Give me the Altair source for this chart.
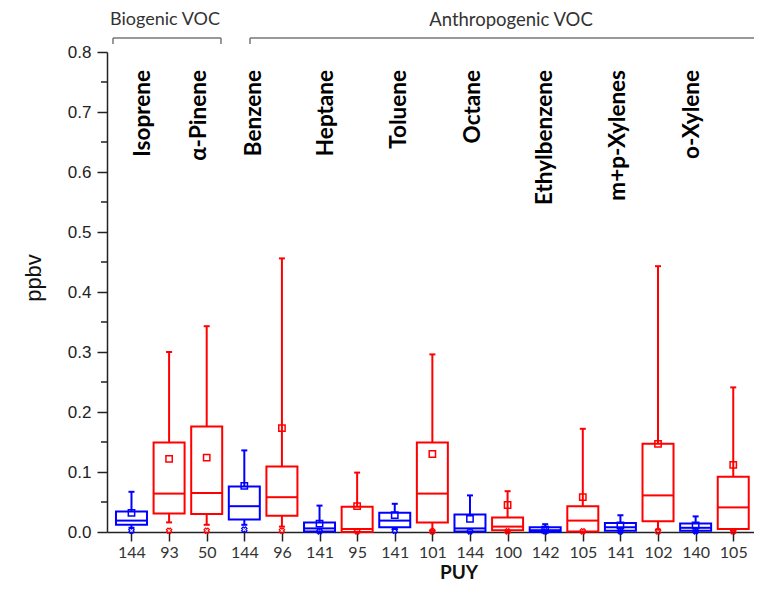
import altair as alt
import pandas as pd

# ---- data ----
n_labels = ["144", "93", "50", "144", "96", "141", "95", "141", "101",
            "144", "100", "142", "105", "141", "102", "140", "105"]
series = ["A", "B", "B", "A", "B", "A", "B", "A", "B",
          "A", "B", "A", "B", "A", "B", "A", "B"]
q1 = [0.012, 0.031, 0.030, 0.021, 0.027, 0.001, 0.000, 0.008, 0.016,
      0.001, 0.003, 0.000, 0.001, 0.002, 0.018, 0.002, 0.005]
median = [0.019, 0.064, 0.065, 0.043, 0.058, 0.006, 0.005, 0.019, 0.064,
          0.006, 0.009, 0.003, 0.019, 0.008, 0.061, 0.007, 0.041]
q3 = [0.034, 0.149, 0.176, 0.076, 0.109, 0.016, 0.042, 0.032, 0.149,
      0.029, 0.024, 0.008, 0.043, 0.015, 0.147, 0.014, 0.092]
mean = [0.032, 0.122, 0.124, 0.077, 0.173, 0.014, 0.043, 0.028, 0.130,
        0.022, 0.045, 0.004, 0.058, 0.011, 0.147, 0.011, 0.112]
whisk_lo = [0.007, 0.016, 0.012, 0.012, 0.009, 0.001, 0.000, 0.005, 0.002,
            0.000, 0.001, 0.000, 0.000, 0.000, 0.004, 0.000, 0.002]
whisk_hi = [0.067, 0.300, 0.343, 0.136, 0.456, 0.044, 0.099, 0.047, 0.296,
            0.061, 0.068, 0.013, 0.172, 0.028, 0.443, 0.026, 0.241]
p1 = [0.002, 0.002, 0.002, 0.004, 0.002, 0.001, 0.001, 0.002, 0.001,
      0.001, 0.001, 0.001, 0.001, 0.001, 0.001, 0.001, 0.001]

compounds = ["Isoprene", "α-Pinene", "Benzene", "Heptane", "Toluene",
             "Octane", "Ethylbenzene", "m+p-Xylenes", "o-Xylene"]
compound_pos = [0.5, 1.98, 3.435, 5.36, 7.31, 9.26, 11.18, 13.13, 15.08]

y_ticks = [0.0, 0.1, 0.2, 0.3, 0.4, 0.5, 0.6, 0.7, 0.8]
y_minor = [0.05, 0.15, 0.25, 0.35, 0.45, 0.55, 0.65, 0.75]

df = pd.DataFrame({
    "idx": list(range(len(n_labels))),
    "n": n_labels, "series": series,
    "q1": q1, "median": median, "q3": q3, "mean": mean,
    "lo": whisk_lo, "hi": whisk_hi, "p1": p1,
})
df_lab = pd.DataFrame({"compound": compounds, "pos": compound_pos})
df_minor = pd.DataFrame({"v": y_minor})
one = pd.DataFrame({"a": [0]})

xscale = alt.Scale(domain=[-0.518, 16.419], nice=False, zero=False)
yscale = alt.Scale(domain=[0, 0.8], nice=False, zero=True)
cscale = alt.Scale(domain=["A", "B"], range=["#0000ff", "#ff0000"])

label_expr = "[" + ",".join("'%s'" % s for s in n_labels) + "][datum.value]"
xaxis = alt.Axis(values=list(range(len(n_labels))), labelExpr=label_expr,
                 title=None, grid=False, tickSize=9, tickWidth=1.5,
                 tickColor="#222", domainColor="#222", domainWidth=1.5,
                 labelFont="Lato", labelFontSize=16, labelColor="#333",
                 labelPadding=3, labelOverlap=False, labelFlush=False)
yaxis = alt.Axis(values=y_ticks, format=".1f", title=None, grid=False,
                 tickSize=10, tickWidth=1.5, tickColor="#222",
                 domainColor="#222", domainWidth=1.5,
                 labelFont="Liberation Sans", labelFontSize=17,
                 labelColor="#222", labelPadding=6)


def XQ(field):
    return alt.X(field, type="quantitative", scale=xscale, axis=xaxis)


def YQ(field):
    return alt.Y(field, type="quantitative", scale=yscale, axis=yaxis)


stroke = alt.Stroke("series:N", scale=cscale, legend=None)
color = alt.Color("series:N", scale=cscale, legend=None)

base = alt.Chart(df)

whisk_up = base.mark_rule(strokeWidth=2).encode(
    x=XQ("idx"), y=YQ("q3"), y2="hi:Q", stroke=stroke)
whisk_dn = base.mark_rule(strokeWidth=2).encode(
    x=XQ("idx"), y=YQ("lo"), y2="q1:Q", stroke=stroke)
cap_hi = base.mark_tick(orient="horizontal", size=6, thickness=2,
                        opacity=1).encode(x=XQ("idx"), y=YQ("hi"), color=color)
cap_lo = base.mark_tick(orient="horizontal", size=6, thickness=2,
                        opacity=1).encode(x=XQ("idx"), y=YQ("lo"), color=color)
box = base.mark_bar(orient="vertical", size=31, fill="white",
                    strokeWidth=2).encode(
    x=XQ("idx"), y=YQ("q1"), y2="q3:Q", stroke=stroke)
med = base.mark_tick(orient="horizontal", size=31, thickness=2,
                     opacity=1).encode(x=XQ("idx"), y=YQ("median"), color=color)
mean_pt = base.mark_point(shape="square", size=40, filled=False,
                          strokeWidth=1.5, opacity=1).encode(
    x=XQ("idx"), y=YQ("mean"), stroke=stroke)
p1_pt = base.mark_point(shape="cross", angle=45, size=30, filled=False,
                        strokeWidth=1.2, opacity=1).encode(
    x=XQ("idx"), y=YQ("p1"), stroke=stroke)

minor = alt.Chart(df_minor).mark_rule(stroke="#222", strokeWidth=1.5).encode(
    x=alt.value(-6), x2=alt.value(0), y=YQ("v"))

labels = alt.Chart(df_lab).mark_text(
    angle=270, align="right", baseline="alphabetic", font="Lato",
    fontWeight="bold", fontSize=22.5, color="black").encode(
    x=XQ("pos"), y=alt.value(18), text="compound:N")

bracket_color = "#777"
br = []
br.append(alt.Chart(one).mark_rule(stroke=bracket_color, strokeWidth=1.5).encode(
    x=alt.value(6), x2=alt.value(114), y=alt.value(-14)))
br.append(alt.Chart(one).mark_rule(stroke=bracket_color, strokeWidth=1.5).encode(
    x=alt.value(6), y=alt.value(-14), y2=alt.value(-8)))
br.append(alt.Chart(one).mark_rule(stroke=bracket_color, strokeWidth=1.5).encode(
    x=alt.value(114), y=alt.value(-14), y2=alt.value(-8)))
br.append(alt.Chart(one).mark_rule(stroke=bracket_color, strokeWidth=1.5).encode(
    x=alt.value(143), x2=alt.value(700), y=alt.value(-14)))
br.append(alt.Chart(one).mark_rule(stroke=bracket_color, strokeWidth=1.5).encode(
    x=alt.value(143), y=alt.value(-14), y2=alt.value(-8)))


def txt(s, x, y, **kw):
    return alt.Chart(one).mark_text(text=s, **kw).encode(
        x=alt.value(x), y=alt.value(y))


t_bio = txt("Biogenic VOC", 58, -32, font="Lato", fontSize=18,
            color="#333", align="center", baseline="middle")
t_anth = txt("Anthropogenic VOC", 404, -32, font="Lato", fontSize=18.5,
             color="#333", align="center", baseline="middle")
t_y = txt("ppbv", -73, 226, font="Liberation Sans", fontSize=22,
          color="#111", align="center", baseline="middle", angle=270)
t_x = txt("PUY", 352, 527, font="Lato", fontSize=19, fontWeight="bold",
          color="#111", align="center", baseline="alphabetic")

chart = alt.layer(
    whisk_up, whisk_dn, cap_hi, cap_lo, box, med, mean_pt, p1_pt, minor,
    labels, *br, t_bio, t_anth, t_y, t_x
).properties(
    width=647, height=480,
    padding={"left": 99, "top": 44, "right": 0, "bottom": 52},
    autosize=alt.AutoSizeParams(type="none"),
).configure_view(stroke=None)

chart.save("out.html", embed_options={"renderer": "svg", "actions": False})
